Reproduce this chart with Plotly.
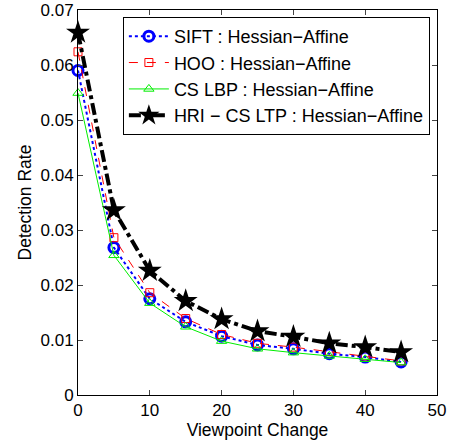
import plotly.graph_objects as go

viewpoint = [0, 5, 10, 15, 20, 25, 30, 35, 40, 45]
sift = [0.0590, 0.0268, 0.0175, 0.0133, 0.0107, 0.0091, 0.0084, 0.0075, 0.0069, 0.0060]
hoo = [0.0624, 0.0286, 0.0186, 0.0139, 0.0110, 0.0094, 0.0087, 0.0079, 0.0071, 0.0062]
cslbp = [0.0549, 0.0254, 0.0167, 0.0124, 0.0098, 0.0084, 0.0077, 0.0071, 0.0065, 0.0059]
hri = [0.0659, 0.0336, 0.0226, 0.0171, 0.0138, 0.0116, 0.0106, 0.0094, 0.0087, 0.0078]

names = ["SIFT : Hessian\u2212Affine", "HOO : Hessian\u2212Affine",
         "CS LBP : Hessian\u2212Affine", "HRI \u2212 CS LTP : Hessian\u2212Affine"]

fig = go.Figure()
fig.add_trace(go.Scatter(x=viewpoint, y=sift, name=names[0], mode="lines+markers", cliponaxis=False,
                         line=dict(color="#0000ff", width=2, dash="dot"),
                         marker=dict(symbol="circle-open", size=10, color="#0000ff", line=dict(width=3))))
fig.add_trace(go.Scatter(x=viewpoint, y=hoo, name=names[1], mode="lines+markers", cliponaxis=False,
                         line=dict(color="#ff0000", width=1, dash="dash"),
                         marker=dict(symbol="square-open", size=8, color="#ff0000", line=dict(width=1))))
fig.add_trace(go.Scatter(x=viewpoint, y=cslbp, name=names[2], mode="lines+markers", cliponaxis=False,
                         line=dict(color="#00ee00", width=1),
                         marker=dict(symbol="triangle-up-open", size=9, color="#00ee00", line=dict(width=1))))
fig.add_trace(go.Scatter(x=viewpoint, y=hri, name=names[3], mode="lines+markers", cliponaxis=False,
                         line=dict(color="#000000", width=4, dash="dashdot"),
                         marker=dict(symbol="star", size=18, color="#000000")))

font = "Liberation Sans, Arial, Helvetica, sans-serif"
fig.update_layout(
    width=454, height=442,
    margin=dict(l=78, r=17, t=10, b=47, pad=0, autoexpand=False),
    plot_bgcolor="white", paper_bgcolor="white",
    font=dict(family=font, size=18, color="black"),
    showlegend=True,
    legend=dict(x=0.125, y=0.982, xanchor="left", yanchor="top",
                bgcolor="white", bordercolor="black", borderwidth=1,
                font=dict(size=18), tracegroupgap=0, itemwidth=40),
    xaxis=dict(range=[0, 50], tickvals=[0, 10, 20, 30, 40, 50], ticks="inside", ticklen=5,
               showline=True, linecolor="black", linewidth=1, mirror="ticks",
               showgrid=False, zeroline=False, tickfont=dict(size=17),
               ticklabelstandoff=0, automargin=False,
               title=dict(text="Viewpoint Change", standoff=0, font=dict(size=17.5))),
    yaxis=dict(range=[0, 0.07], tickvals=[0, 0.01, 0.02, 0.03, 0.04, 0.05, 0.06, 0.07],
               ticktext=["0", "0.01", "0.02", "0.03", "0.04", "0.05", "0.06", "0.07"],
               ticks="inside", ticklen=5, automargin=False,
               showline=True, linecolor="black", linewidth=1, mirror="ticks",
               showgrid=False, zeroline=False, tickfont=dict(size=17),
               title=dict(text="Detection Rate", standoff=4, font=dict(size=17.5))),
)

fig.write_html("out.html", config={"displayModeBar": False},
               post_script="document.body.style.margin='0';document.body.style.overflow='hidden';")
